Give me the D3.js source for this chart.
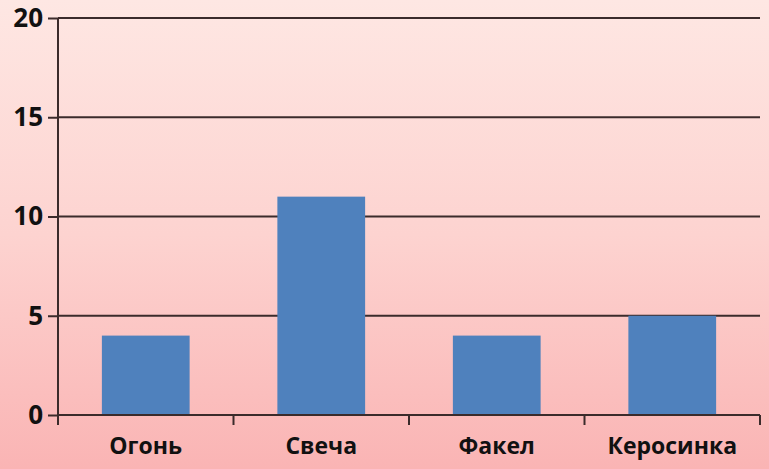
<!DOCTYPE html>
<html>
<head>
<meta charset="utf-8">
<script src="https://cdn.jsdelivr.net/npm/d3@7"></script>
<style>
  html, body { margin: 0; padding: 0; }
  body { width: 769px; height: 469px; overflow: hidden; }
</style>
</head>
<body>
<div id="chart"></div>
<script>
const categories = ["Огонь", "Свеча", "Факел", "Керосинка"];
const values = [4, 11, 4, 5];
const yTicks = [0, 5, 10, 15, 20];

const width = 769, height = 469;
const margin = { top: 18, right: 9, bottom: 54, left: 58 };

const svg = d3.select("#chart").append("svg")
    .attr("width", width)
    .attr("height", height);

// background gradient
const grad = svg.append("defs").append("linearGradient")
    .attr("id", "bg")
    .attr("x1", 0).attr("y1", 0).attr("x2", 0).attr("y2", 1);
grad.append("stop").attr("offset", "0%").attr("stop-color", "#fee7e3");
grad.append("stop").attr("offset", "50%").attr("stop-color", "#fdd3d0");
grad.append("stop").attr("offset", "100%").attr("stop-color", "#fab4b4");

svg.append("rect")
    .attr("width", width).attr("height", height)
    .attr("fill", "url(#bg)");

const x = d3.scaleBand()
    .domain(categories)
    .range([margin.left, width - margin.right])
    .paddingInner(0.5)
    .paddingOuter(0.25);

const y = d3.scaleLinear()
    .domain([0, 20])
    .range([height - margin.bottom, margin.top]);

const lineColor = "#3b2b2b";
const font = "'Open Sans', 'DejaVu Sans', sans-serif";

// gridlines
svg.append("g")
    .selectAll("line")
    .data(yTicks.filter(d => d > 0))
    .join("line")
    .attr("x1", margin.left)
    .attr("x2", width - margin.right)
    .attr("y1", d => y(d))
    .attr("y2", d => y(d))
    .attr("stroke", lineColor)
    .attr("stroke-width", 2);

// bars
svg.append("g")
    .selectAll("rect")
    .data(values)
    .join("rect")
    .attr("x", (d, i) => x(categories[i]))
    .attr("width", x.bandwidth())
    .attr("y", d => y(d))
    .attr("height", d => y(0) - y(d))
    .attr("fill", "#4f81bd");

// y axis
const yAxis = svg.append("g")
    .attr("transform", `translate(${margin.left},0)`)
    .call(d3.axisLeft(y).tickValues(yTicks).tickSize(10).tickPadding(5));
yAxis.select(".domain").attr("stroke", lineColor).attr("stroke-width", 2)
    .attr("d", `M0,${y(0)}V${y(20)}`);
yAxis.selectAll(".tick line").attr("stroke", lineColor).attr("stroke-width", 2);
yAxis.selectAll(".tick text")
    .attr("fill", "#111")
    .style("font-family", font)
    .style("font-weight", "bold")
    .style("font-size", "26px");

// x axis
const xBoundaries = d3.range(categories.length + 1).map(i =>
    margin.left + i * (width - margin.right - margin.left) / categories.length);
const xAxisG = svg.append("g");
xAxisG.append("line")
    .attr("x1", margin.left).attr("x2", width - margin.right)
    .attr("y1", y(0)).attr("y2", y(0))
    .attr("stroke", lineColor).attr("stroke-width", 2);
xAxisG.selectAll("line.tick")
    .data(xBoundaries)
    .join("line")
    .attr("class", "tick")
    .attr("x1", d => d).attr("x2", d => d)
    .attr("y1", y(0)).attr("y2", y(0) + 10)
    .attr("stroke", lineColor).attr("stroke-width", 2);
xAxisG.selectAll("text")
    .data(categories)
    .join("text")
    .attr("x", d => x(d) + x.bandwidth() / 2)
    .attr("y", y(0) + 39)
    .attr("text-anchor", "middle")
    .attr("fill", "#111")
    .style("font-family", font)
    .style("font-weight", "bold")
    .style("font-size", "23px")
    .text(d => d);
</script>
</body>
</html>
